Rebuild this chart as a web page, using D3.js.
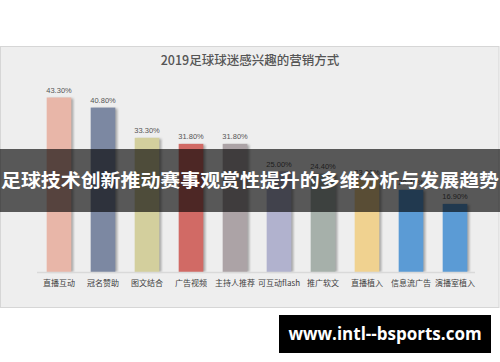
<!DOCTYPE html>
<html>
<head>
<meta charset="utf-8">
<script src="https://cdn.jsdelivr.net/npm/d3@7"></script>
<style>
	body { margin: 0; background: #fff; }
</style>
</head>
<body>
<div id="divplot"></div>
<script>
// 2019 football fans marketing preference

const categories = ['直播互动', '冠名赞助', '图文结合', '广告视频', '主持人推荐', '可互动flash', '推广软文', '直播植入', '信息流广告', '演播室植入']
const values = [43.3, 40.8, 33.3, 31.8, 31.8, 25.0, 24.4, 23.0, 20.4, 16.9]
const colors = ['#e8b6a8', '#7c88a2', '#d3cf9d', '#d16a65', '#aca3a6', '#b1b2ce', '#a6b0aa', '#f0d290', '#5b9bd5', '#5b9bd5']
const title = '2019足球球迷感兴趣的营销方式'
const banner = '足球技术创新推动赛事观赏性提升的多维分析与发展趋势'
const site = 'www.intl--bsports.com'

const plot = () => {

	let width = 500
	let height = 362

	let svg = d3.select('#divplot')
		.append('svg')
		.attr('width', width)
		.attr('height', height)
		.style('display', 'block')

	let defs = svg.append('defs')
	defs.append('filter')
		.attr('id', 'blur')
		.append('feGaussianBlur')
		.attr('stdDeviation', 1)

	// panel
	svg.append('rect')
		.attr('x', 0.5)
		.attr('y', 46.5)
		.attr('width', 498.5)
		.attr('height', 261)
		.attr('fill', '#eeeeee')
		.attr('stroke', '#d6d6d6')

	svg.append('text')
		.attr('x', 250)
		.attr('y', 64.5)
		.attr('text-anchor', 'middle')
		.attr('style', 'font-size: 12.5px; font-weight: 500; font-family: "Noto Sans CJK SC", sans-serif')
		.attr('fill', '#555')
		.text(title)

	let xScale = d3.scaleBand()
		.domain(categories)
		.range([37, 477])
		.paddingInner(0.44)
		.paddingOuter(0.22)

	let yScale = d3.scaleLinear()
		.domain([0, 50])
		.range([272, 70.5])

	let data = categories.map((c, i) => ({ name: c, value: values[i], color: colors[i] }))

	// shadows
	svg.selectAll('rect.shadow')
	.data(data)
	.enter()
	.append('rect')
	.attr('class', 'shadow')
	.attr('x', d => xScale(d.name) + 2)
	.attr('y', d => yScale(d.value) + 1)
	.attr('width', xScale.bandwidth())
	.attr('height', d => yScale(0) - yScale(d.value) - 1)
	.attr('fill', '#8a8a8a')
	.attr('opacity', 0.7)
	.attr('filter', 'url(#blur)')

	svg.selectAll('rect.bar')
	.data(data)
	.enter()
	.append('rect')
	.attr('class', 'bar')
	.attr('x', d => xScale(d.name))
	.attr('y', d => yScale(d.value))
	.attr('width', xScale.bandwidth())
	.attr('height', d => yScale(0) - yScale(d.value))
	.attr('fill', d => d.color)

	svg.append('line')
		.attr('x1', 37)
		.attr('x2', 475)
		.attr('y1', yScale(0) + 0.5)
		.attr('y2', yScale(0) + 0.5)
		.attr('stroke', '#d9d9d9')
		.attr('stroke-width', 1.5)

	svg.selectAll('text.value')
	.data(data)
	.enter()
	.append('text')
	.attr('class', 'value')
	.attr('x', d => xScale(d.name) + xScale.bandwidth() / 2)
	.attr('y', d => yScale(d.value) - 4.5)
	.attr('text-anchor', 'middle')
	.attr('style', 'font-size: 7.5px; font-family: "Liberation Sans", Arial, sans-serif')
	.attr('fill', '#555')
	.text(d => d.value.toFixed(2) + '%')

	svg.selectAll('text.cat')
	.data(data)
	.enter()
	.append('text')
	.attr('class', 'cat')
	.attr('x', d => xScale(d.name) + xScale.bandwidth() / 2)
	.attr('y', 285.5)
	.attr('text-anchor', 'middle')
	.attr('style', 'font-size: 8px; font-family: "Noto Sans CJK SC", sans-serif')
	.attr('fill', '#404040')
	.text(d => d.name)

	// overlay banner
	svg.append('rect')
		.attr('x', 0)
		.attr('y', 149)
		.attr('width', width)
		.attr('height', 63)
		.attr('fill', '#000')
		.attr('opacity', 0.63)

	svg.append('text')
		.attr('x', 250)
		.attr('y', 187)
		.attr('text-anchor', 'middle')
		.attr('textLength', 498)
		.attr('lengthAdjust', 'spacingAndGlyphs')
		.attr('style', 'font-size: 18.5px; font-weight: bold; font-family: "Noto Sans CJK SC", sans-serif')
		.attr('fill', '#fff')
		.text(banner)

	// watermark
	svg.append('rect')
		.attr('x', 279)
		.attr('y', 315)
		.attr('width', 212)
		.attr('height', 38)
		.attr('fill', '#000')

	svg.append('text')
		.attr('x', 385)
		.attr('y', 340)
		.attr('text-anchor', 'middle')
		.attr('style', 'font-size: 17px; font-weight: bold; font-family: "Open Sans", "DejaVu Sans", sans-serif')
		.attr('fill', '#fff')
		.text(site)
}

plot()
</script>
</body>
</html>
